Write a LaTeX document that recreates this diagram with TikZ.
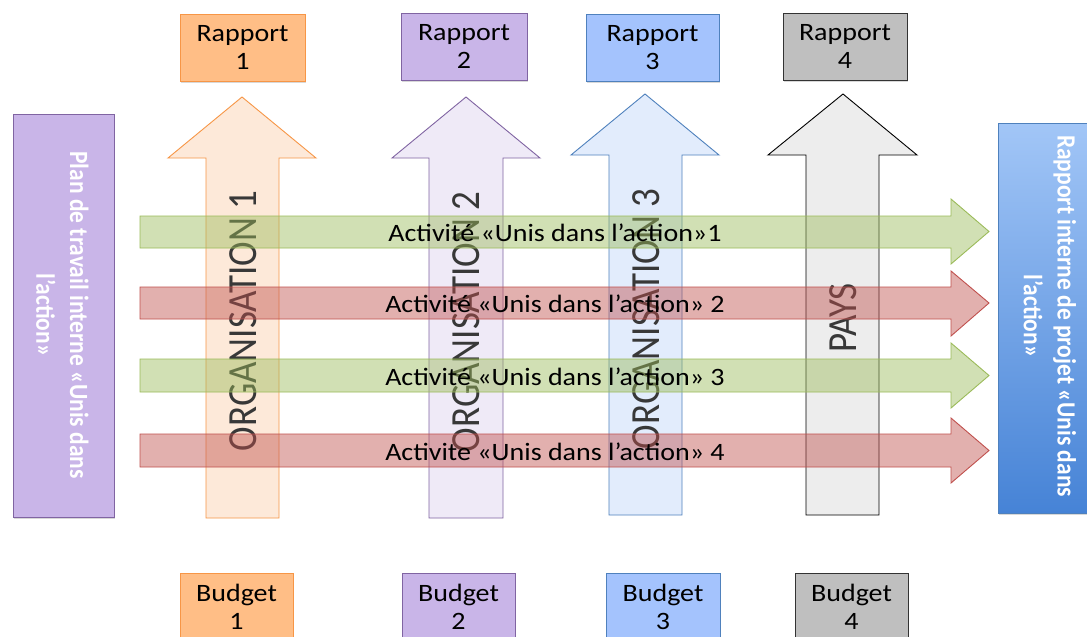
\documentclass[tikz,border=0pt]{standalone}
\usepackage{fontspec}
\setmainfont{Carlito}
\newfontfamily\hfont{Carlito}[FakeStretch=1.12]
\usetikzlibrary{shadows}
\definecolor{orgB}{HTML}{F79646}
\definecolor{orgF}{HTML}{FFBE86}
\definecolor{orgL}{HTML}{FDE9D9}
\definecolor{purB}{HTML}{8064A2}
\definecolor{purF}{HTML}{C9B5E8}
\definecolor{purL}{HTML}{EFEAF7}
\definecolor{bluB}{HTML}{4F81BD}
\definecolor{bluF}{HTML}{A4C3FD}
\definecolor{bluL}{HTML}{E2ECFC}
\definecolor{gryF}{HTML}{BFBFBF}
\definecolor{gryL}{HTML}{EDEDED}
\definecolor{grnB}{HTML}{9BBB59}
\definecolor{redB}{HTML}{C0504D}
\definecolor{rtop}{HTML}{A2C6F7}
\definecolor{rbot}{HTML}{4683D6}
\tikzset{
  hfnt/.style={font=\hfont\fontsize{25}{28}\selectfont},
  rbox/.style={draw, line width=1pt, minimum height=67pt, align=center, inner sep=0pt,
    hfnt, drop shadow={opacity=0.3,shadow xshift=1pt,shadow yshift=-2pt}},
  bbox/.style={draw, line width=1pt, minimum height=90pt, inner sep=0pt,
    drop shadow={opacity=0.3,shadow xshift=1pt,shadow yshift=-2pt}},
  vtxt/.style={rotate=90, text=black!78, font=\fontsize{37}{40}\selectfont, inner sep=0pt},
  uparrow/.style={line width=0.9pt},
  harrow/.style={line width=0.9pt, fill opacity=0.45},
  htxt/.style={hfnt, inner sep=0pt},
  sidetxt/.style={rotate=-90, text=white, align=center, inner sep=0pt,
    font=\bfseries\fontsize{23.5}{30}\selectfont}
}
\begin{document}
\begin{tikzpicture}[x=1pt,y=-1pt]
\useasboundingbox (0,0) rectangle (1087,637);
\clip (0,0) rectangle (1087,637);
\fill[white] (0,0) rectangle (1087,637);

% Rapport boxes
\node[rbox, draw=orgB, fill=orgF, minimum width=125pt] (r1) at (242.5,47.5) {Rapport\\1};
\node[rbox, draw=purB, fill=purF, minimum width=126pt] (r2) at (464,46.5) {Rapport\\2};
\node[rbox, draw=bluB, fill=bluF, minimum width=133pt] (r3) at (652.5,47.5) {Rapport\\3};
\node[rbox, draw=black!80, fill=gryF, minimum width=124pt] (r4) at (845,46.5) {Rapport\\4};

% Budget boxes
\node[bbox, draw=orgB, fill=orgF, minimum width=113pt] (b1) at (236.5,618) {};
\node[bbox, draw=purB, fill=purF, minimum width=113pt] (b2) at (458.5,618) {};
\node[bbox, draw=bluB, fill=bluF, minimum width=114pt] (b3) at (663,618) {};
\node[bbox, draw=black!80, fill=gryF, minimum width=113pt] (b4) at (851.5,618) {};
\node[htxt, align=center] (b1t) at (236.5,607) {Budget\\1};
\node[htxt, align=center] (b2t) at (458.5,607) {Budget\\2};
\node[htxt, align=center] (b3t) at (663,607) {Budget\\3};
\node[htxt, align=center] (b4t) at (851.5,607) {Budget\\4};

% Side boxes
\node[draw=purB, line width=1pt, fill=purF, minimum width=101pt, minimum height=403pt,
  drop shadow={opacity=0.3,shadow xshift=1pt,shadow yshift=-2pt}] (plan) at (63.5,315.5) {};
\node[sidetxt] (plant) at (60,315) {\scalebox{1}[1.12]{\begin{tabular}{c}Plan de travail interne «Unis dans\\l’action»\end{tabular}}};
\node[draw=bluB, line width=1pt, top color=rtop, bottom color=rbot, minimum width=98pt, minimum height=390pt,
  drop shadow={opacity=0.3,shadow xshift=1pt,shadow yshift=-2pt}] (rap) at (1047,318) {};
\node[sidetxt] (rapt) at (1047.5,316) {\scalebox{1}[1.12]{\begin{tabular}{c}Rapport interne de projet «Unis dans\\l’action»\end{tabular}}};

% Vertical arrows
\draw[uparrow, draw=orgB, fill=orgL] (206,518) -- (206,158) -- (168,158) -- (242,97) -- (316,158) -- (279,158) -- (279,518) -- cycle;
\draw[uparrow, draw=purB, fill=purL] (429,518) -- (429,158) -- (392,158) -- (466,97) -- (540,158) -- (503,158) -- (503,518) -- cycle;
\draw[uparrow, draw=bluB, fill=bluL] (609,515) -- (609,155) -- (571,155) -- (645,94) -- (719,155) -- (682,155) -- (682,515) -- cycle;
\draw[uparrow, draw=black, fill=gryL] (806,515) -- (806,155) -- (768,155) -- (843,94) -- (917,155) -- (879,155) -- (879,515) -- cycle;
\node[vtxt] (o1) at (243.5,321) {\scalebox{1}[1.12]{ORGANISATION 1}};
\node[vtxt] (o2) at (466,322) {\scalebox{1}[1.12]{ORGANISATION 2}};
\node[vtxt] (o3) at (646,319) {\scalebox{1}[1.12]{ORGANISATION 3}};
\node[vtxt] (o4) at (843,318) {\scalebox{1}[1.12]{PAYS}};

% Horizontal arrows
\draw[harrow, draw=grnB, fill=grnB] (140,216) -- (951,216) -- (951,199) -- (989,231.5) -- (951,264) -- (951,248) -- (140,248) -- cycle;
\draw[harrow, draw=redB, fill=redB] (140,287) -- (951,287) -- (951,271) -- (989,303) -- (951,336) -- (951,319) -- (140,319) -- cycle;
\draw[harrow, draw=grnB, fill=grnB] (140,359) -- (951,359) -- (951,343) -- (989,375.5) -- (951,408) -- (951,392) -- (140,392) -- cycle;
\draw[harrow, draw=redB, fill=redB] (140,434) -- (951,434) -- (951,418) -- (989,450.5) -- (951,483) -- (951,467) -- (140,467) -- cycle;
\node[htxt] (a1) at (555,233) {Activité «Unis dans l’action»1};
\node[htxt] (a2) at (555,304) {Activité «Unis dans l’action» 2};
\node[htxt] (a3) at (555,377) {Activité «Unis dans l’action» 3};
\node[htxt] (a4) at (555,452) {Activite «Unis dans l’action» 4};
\end{tikzpicture}
\end{document}
